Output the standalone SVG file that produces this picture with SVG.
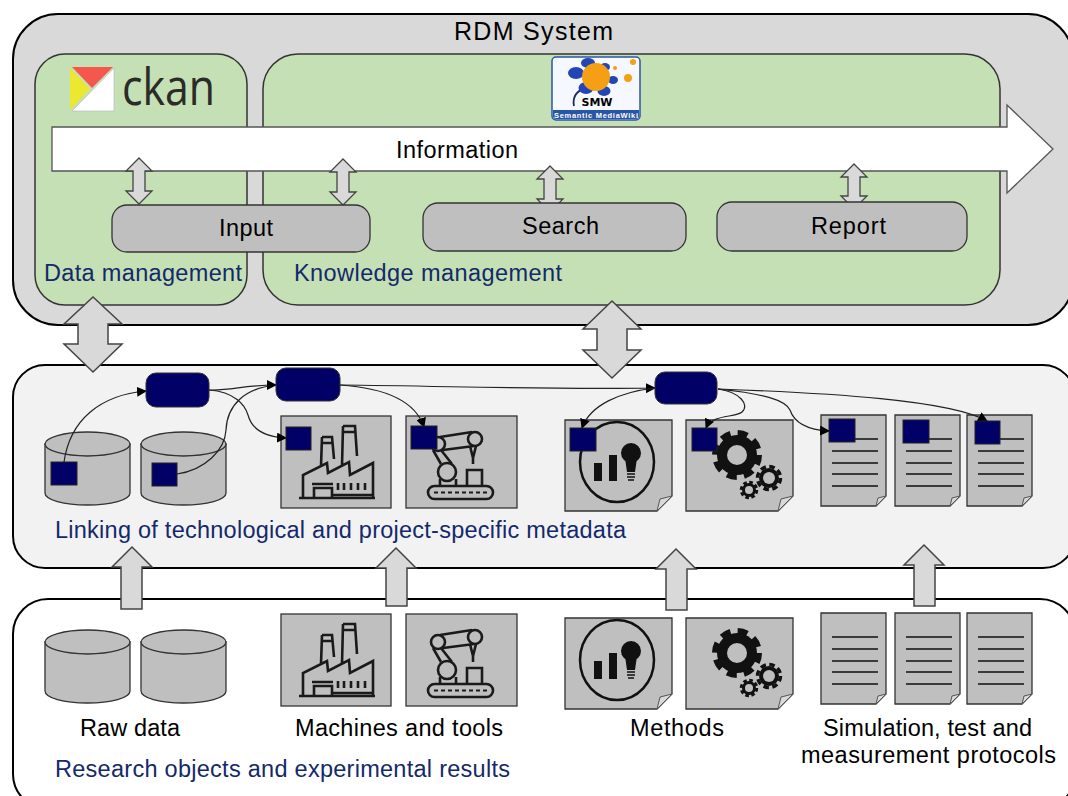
<svg xmlns="http://www.w3.org/2000/svg" xmlns:xlink="http://www.w3.org/1999/xlink" width="1068" height="796" viewBox="0 0 1068 796">
<style>
text{font-family:"Liberation Sans",Arial,sans-serif;font-size:23.5px;fill:#000}
.n{fill:#14296b}
.panel{stroke:#000;stroke-width:2}
.green{fill:#c5e0b4;stroke:#333;stroke-width:1.5}
.btn{fill:#bfbfbf;stroke:#333;stroke-width:1.3}
.dbl{fill:#d9d9d9;stroke:#444;stroke-width:1.3}
.big{fill:#d9d9d9;stroke:#444;stroke-width:1.5}
.box{fill:#bfbfbf;stroke:#333;stroke-width:1.3}
.pill{fill:#000066;stroke:#333;stroke-width:1}
.tag{fill:#000066;stroke:#222;stroke-width:1}
.ic{fill:none;stroke:#1a1a1a;stroke-width:2.6}
.ln{stroke:#111;stroke-width:1.3}
.c{fill:none;stroke:#222;stroke-width:1.2}
.fold{fill:#d9d9d9;stroke:#555;stroke-width:1}
</style>
<defs>
<marker id="ah" markerUnits="userSpaceOnUse" markerWidth="11" markerHeight="10" refX="9" refY="5" orient="auto"><path d="M0,0L10,5L0,10z" fill="#000"/></marker>
<g id="cyl"><path class="box" d="M0,12V61C0,68 19,73 42.500,73S85,68 85,61V12Z"/><ellipse class="box" cx="42.500" cy="12" rx="42.500" ry="12"/></g>
<g id="factory">
<rect class="box" width="110" height="92"/>
<path class="ic" d="M22,82V59L46,47L47,57L68,46L69,59L92,47V82M41,21H51L53,43M41,21L40,50M62,10H74L76,40M62,10L61,50M41,27H51M62,16H74M18,82H94M51,79H92M33,82V72H51V82M31,68H52M57,67V74M63,67V74M70,67V74M77,67V74M84,67V74"/>
</g>
<g id="robot">
<rect class="box" width="111" height="92"/>
<g class="ic"><circle cx="32" cy="28" r="7"/><circle cx="69" cy="23" r="7"/><circle cx="41" cy="56" r="9"/>
<path d="M34,21L66,16M37,34L68,30M27,34L35,48M35,34L46,48M34,63V70M50,63V70M61,70V54H76V70"/><path d="M64,30L67,42L70,30M67,42V48"/><rect x="22" y="70" width="65" height="13" rx="6.500"/><path stroke-dasharray="4 3" d="M28,76.500H83" stroke-width="2"/></g>
</g>
<path id="note" class="box" d="M0,0H107V76L92,91H0Z"/>
<path id="nfold" class="fold" d="M107,76L95,79L92,91Z"/>
<g id="bulb">
<use xlink:href="#note"/><use xlink:href="#nfold"/>
<ellipse cx="52" cy="42" rx="37" ry="40" fill="none" stroke="#111" stroke-width="2.500"/>
<rect x="29" y="43" width="8" height="18" fill="#111"/><rect x="44" y="35" width="8" height="26" fill="#111"/>
<circle cx="66" cy="33" r="10" fill="#111"/><path d="M60,38H72L70,52H62Z" fill="#111"/><path d="M62,54H70M62,57H70M63,60H69" stroke="#111" stroke-width="1.600"/>
</g>
<g id="gears">
<use xlink:href="#note"/><use xlink:href="#nfold"/>
<circle cx="51" cy="35" r="20" fill="#111"/><circle cx="51" cy="35" r="22" fill="none" stroke="#111" stroke-width="6" stroke-dasharray="10 7.280"/><circle cx="51" cy="35" r="10" fill="#bfbfbf"/>
<circle cx="83" cy="58" r="10" fill="#111"/><circle cx="83" cy="58" r="11.500" fill="none" stroke="#111" stroke-width="3.500" stroke-dasharray="5.500 3.530"/><circle cx="83" cy="58" r="6" fill="#bfbfbf"/>
<circle cx="63" cy="70" r="7" fill="#111"/><circle cx="63" cy="70" r="7.500" fill="none" stroke="#111" stroke-width="3.500" stroke-dasharray="3.500 2.390"/><circle cx="63" cy="70" r="4" fill="#bfbfbf"/>
</g>
<g id="doc">
<path class="box" d="M0,0H65V81L55,91H0Z"/><path class="fold" d="M65,81L57,83L55,91Z"/>
<path class="ln" d="M11,24H57M11,36H57M11,48H57M11,59H57M11,71H57"/>
</g>
</defs>

<g id="rdm-system">
<rect class="panel" x="13" y="14" width="1060" height="311" rx="45" fill="#d9d9d9"/>
<text x="454" y="40" textLength="159" style="font-size:25px">RDM System</text>
</g>
<g id="data-management">
<rect class="green" x="35" y="54" width="212" height="251" rx="30"/>
<path d="M72,67H113L92,88Z" fill="#f4574b"/><path d="M70,68L90,89L70,110Z" fill="#ece830"/><path d="M114,68V111H72Z" fill="#fff" stroke="#bbb" stroke-width=".7"/>
<text x="122" y="105" textLength="93" lengthAdjust="spacingAndGlyphs" style="font-family:'Open Sans',sans-serif;font-size:52px;fill:#2b2b28">ckan</text>
<text class="n" x="44" y="281" textLength="198">Data management</text>
</g>
<g id="knowledge-management">
<rect class="green" x="263" y="54" width="737" height="251" rx="35"/>
<rect x="552" y="57" width="88" height="63" rx="4" fill="#f5f9ff" stroke="#2a55a5" stroke-width="1.500"/>
<path d="M553,110H639V116Q639,119 636,119H556Q553,119 553,116Z" fill="#2a55a5"/>
<path d="M586,88C577,90 572,97 574,106" fill="none" stroke="#1a2a60" stroke-width="1.800"/>
<g fill="#2445b5"><ellipse cx="576" cy="73" rx="8" ry="6"/><ellipse cx="588" cy="63" rx="7" ry="5"/><ellipse cx="605" cy="67" rx="5" ry="4"/><ellipse cx="613" cy="80" rx="5" ry="4"/><ellipse cx="604" cy="91" rx="6.500" ry="5"/><ellipse cx="586" cy="88" rx="7.500" ry="6"/></g>
<g fill="#f59f14"><circle cx="596" cy="77" r="14"/><circle cx="615" cy="68" r="2"/><circle cx="628" cy="78" r="4"/><circle cx="633" cy="62" r="3"/></g>
<text x="597" y="106" text-anchor="middle" style="font-size:11px;font-weight:bold;font-family:'DejaVu Sans',sans-serif" >SMW</text>
<text x="596" y="118" text-anchor="middle" textLength="84" style="font-size:7.500px;font-weight:bold;fill:#fff">Semantic MediaWiki</text>
<text class="n" x="294" y="281" textLength="268">Knowledge management</text>
</g>
<g id="information">
<path d="M52,127H1007V105L1053,149L1007,193V171H52Z" fill="#fff" stroke="#555" stroke-width="1.300"/>
<text x="396" y="158" textLength="122">Information</text>
</g>
<g id="small-arrows">
<path class="dbl" d="M139,158L152,171H145V191H152L139,204L126,191H133V171H126Z"/>
<path class="dbl" d="M343,159L356,172H349V192H356L343,205L330,192H337V172H330Z"/>
<path class="dbl" d="M550,166L563,179H556V199H563L550,212L537,199H544V179H537Z"/>
<path class="dbl" d="M854,164L867,177H860V196H867L854,209L841,196H848V177H841Z"/>
</g>
<g id="input"><rect class="btn" x="112" y="205" width="258" height="47" rx="15"/><text x="219" y="236" textLength="54">Input</text></g>
<g id="search"><rect class="btn" x="423" y="203" width="263" height="48" rx="15"/><text x="522" y="234" textLength="77">Search</text></g>
<g id="report"><rect class="btn" x="717" y="202" width="250" height="49" rx="15"/><text x="811" y="234" textLength="75">Report</text></g>

<g id="linking-panel">
<rect class="panel" x="13" y="365" width="1062" height="203" rx="32" fill="#f2f2f2"/>
<text class="n" x="55" y="538" textLength="571">Linking of technological and project-specific metadata</text>
</g>
<g id="research-panel">
<rect class="panel" x="13" y="599" width="1062" height="210" rx="35" fill="#fff"/>
<text class="n" x="55" y="777" textLength="455">Research objects and experimental results</text>
</g>
<g id="link-arrows">
<path class="big" d="M93,297L122,324H108V344H122L93,372L64,344H78V324H64Z"/>
<path class="big" d="M612,301L641,329H627V350H641L612,378L583,350H597V329H583Z"/>
<path class="big" d="M132,547L152,567H142V609H121V567H112Z"/>
<path class="big" d="M396,548L416,568H407V606H386V568H376Z"/>
<path class="big" d="M676,549L696,569H687V610H666V569H656Z"/>
<path class="big" d="M924,545L944,565H935V606H914V565H904Z"/>
</g>

<g id="linked-raw-1"><use xlink:href="#cyl" x="45" y="432"/></g>
<g id="linked-raw-2"><use xlink:href="#cyl" x="141" y="432"/></g>
<g id="linked-factory"><use xlink:href="#factory" x="281" y="416"/></g>
<g id="linked-robot"><use xlink:href="#robot" x="406" y="416"/></g>
<g id="linked-bulb"><use xlink:href="#bulb" x="565" y="420"/></g>
<g id="linked-gears"><use xlink:href="#gears" x="686" y="420"/></g>
<g id="linked-doc-1"><use xlink:href="#doc" x="821" y="415"/></g>
<g id="linked-doc-2"><use xlink:href="#doc" x="895" y="415"/></g>
<g id="linked-doc-3"><use xlink:href="#doc" x="967" y="415"/></g>

<g id="connectors">
<path class="c" marker-end="url(#ah)" d="M64,462C70,420 100,395 146,391"/>
<path class="c" d="M177,474C205,470 225,450 226,430C227,405 245,388 276,385"/>
<path class="c" marker-end="url(#ah)" d="M209,390C230,391 245,385 276,385"/>
<path class="c" marker-end="url(#ah)" d="M209,390C235,392 245,405 248,415C252,430 265,437 286,438"/>
<path class="c" marker-end="url(#ah)" d="M340,385C385,388 415,400 424,427"/>
<path class="c" marker-end="url(#ah)" d="M340,385C450,386 550,390 655,388"/>
<path class="c" marker-end="url(#ah)" d="M655,388C620,392 590,405 582,428"/>
<path class="c" marker-end="url(#ah)" d="M718,389C740,392 750,405 742,412C735,418 712,414 706,428"/>
<path class="c" marker-end="url(#ah)" d="M718,389C765,394 785,400 790,410C795,425 810,430 829,431"/>
<path class="c" marker-end="url(#ah)" d="M718,389C830,393 950,400 987,421"/>
</g>
<g id="metadata-tags">
<rect class="pill" x="146" y="373" width="63" height="34" rx="10"/>
<rect class="pill" x="276" y="368" width="64" height="33" rx="10"/>
<rect class="pill" x="655" y="372" width="62" height="32" rx="10"/>
<rect class="tag" x="51" y="462" width="26" height="23"/>
<rect class="tag" x="152" y="463" width="25" height="23"/>
<rect class="tag" x="286" y="427" width="25" height="23"/>
<rect class="tag" x="411" y="426" width="26" height="23"/>
<rect class="tag" x="570" y="428" width="26" height="23"/>
<rect class="tag" x="692" y="428" width="25" height="23"/>
<rect class="tag" x="829" y="419" width="26" height="23"/>
<rect class="tag" x="903" y="420" width="26" height="23"/>
<rect class="tag" x="975" y="421" width="25" height="23"/>
</g>

<g id="raw-data"><use xlink:href="#cyl" x="45" y="630"/><use xlink:href="#cyl" x="141" y="630"/><text x="80" y="736" textLength="100">Raw data</text></g>
<g id="machines-and-tools"><use xlink:href="#factory" x="281" y="614"/><use xlink:href="#robot" x="406" y="614"/><text x="295" y="736" textLength="208">Machines and tools</text></g>
<g id="methods"><use xlink:href="#bulb" x="565" y="618"/><use xlink:href="#gears" x="686" y="618"/><text x="630" y="736" textLength="94">Methods</text></g>
<g id="protocols"><use xlink:href="#doc" x="821" y="613"/><use xlink:href="#doc" x="895" y="613"/><use xlink:href="#doc" x="967" y="613"/><text x="823" y="736" textLength="209">Simulation, test and</text><text x="801" y="763" textLength="255">measurement protocols</text></g>
</svg>
